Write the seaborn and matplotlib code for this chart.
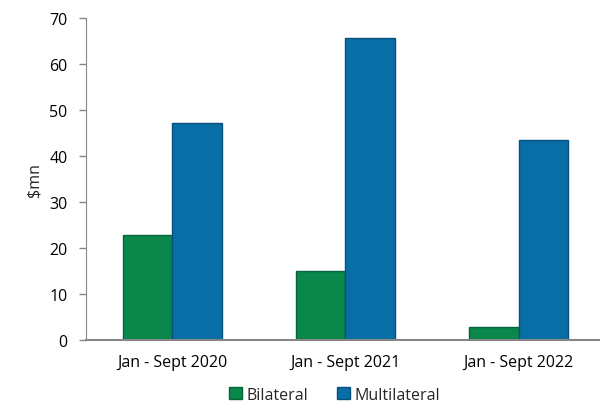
import pandas as pd
import matplotlib.pyplot as plt
import seaborn as sns
from matplotlib.patches import Patch

# Data
periods = ["Jan - Sept 2020", "Jan - Sept 2021", "Jan - Sept 2022"]
bilateral = [22.8, 15.0, 2.8]
multilateral = [47.2, 65.7, 43.5]

df = pd.DataFrame({
    "period": periods * 2,
    "value": bilateral + multilateral,
    "type": ["Bilateral"] * 3 + ["Multilateral"] * 3,
})

sns.set_style("white")
plt.rcParams["font.family"] = ["Open Sans", "DejaVu Sans"]

fig = plt.figure(figsize=(6, 4.06), dpi=100)
ax = fig.add_axes([0.143, 0.160, 0.857, 0.793])

palette = {"Bilateral": "#0a874b", "Multilateral": "#0a6ea6"}
sns.barplot(data=df, x="period", y="value", hue="type", palette=palette,
            width=0.57, saturation=1, ax=ax, legend=False)

edge = {"Bilateral": "#06633a", "Multilateral": "#07507c"}
for cont, name in zip(ax.containers, ["Bilateral", "Multilateral"]):
    for bar in cont:
        bar.set_edgecolor(edge[name])
        bar.set_linewidth(1.0)

ax.set_ylim(0, 70)
ax.set_xlim(-0.5, 2.47)
ax.set_yticks(range(0, 71, 10))
ax.set_xlabel("")
ax.set_ylabel("$mn", fontsize=11.5, labelpad=5)
ax.tick_params(axis="both", labelsize=11.5, colors="#000000")
ax.tick_params(axis="y", left=True, length=5, width=1, color="#868686", pad=8)
ax.tick_params(axis="x", bottom=False, length=0, pad=10)

for side in ["top", "right"]:
    ax.spines[side].set_visible(False)
ax.spines["left"].set_color("#868686")
ax.spines["bottom"].set_color("#868686")
ax.spines["bottom"].set_linewidth(1.5)

handles = [Patch(facecolor=palette[k], edgecolor=edge[k], label=k)
           for k in ["Bilateral", "Multilateral"]]
fig.legend(handles=handles, loc="center", bbox_to_anchor=(0.558, 0.025),
           ncol=2, frameon=False, fontsize=11.5, handlelength=0.8,
           handleheight=0.8, handletextpad=0.3, columnspacing=1.8)

fig.savefig("out.png", dpi=100)
